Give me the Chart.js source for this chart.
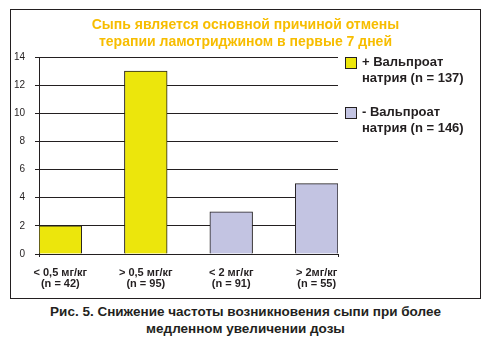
<!DOCTYPE html>
<html lang="ru">
  <head>
    <meta charset="UTF-8" />
    <title>Сыпь и отмена ламотриджина</title>
    <script src="https://cdn.jsdelivr.net/npm/chart.js"></script>
    <style>
      body {
        margin: 0;
        width: 491px;
        height: 342px;
        background: #fff;
        position: relative;
        font-family: "Liberation Sans", Arial, Helvetica, sans-serif;
      }
      .frame {
        position: absolute;
        left: 10px;
        top: 9px;
        width: 471px;
        height: 290px;
        box-sizing: border-box;
        border: 1px solid #231f20;
      }
      .frame canvas {
        display: block;
      }
      .title {
        position: absolute;
        left: 0;
        top: 16px;
        width: 491px;
        text-align: center;
        font-weight: bold;
        font-size: 14px;
        line-height: 16.7px;
        color: #f7bd00;
      }
      .caption {
        position: absolute;
        left: 0;
        top: 303px;
        width: 491px;
        text-align: center;
        font-weight: bold;
        font-size: 13.5px;
        line-height: 17px;
        color: #231f20;
      }
    </style>
  </head>

  <body>
    <div class="frame">
      <canvas id="rashChart" width="469" height="288"></canvas>
    </div>
    <div class="title">
      Сыпь является основной причиной отмены<br />
      терапии ламотриджином в первые 7 дней
    </div>
    <div class="caption">
      Рис. 5. Снижение частоты возникновения сыпи при более<br />
      медленном увеличении дозы
    </div>

    <script>
      // dose groups, number of patients who stopped because of rash
      const categories = [
        ["< 0,5 мг/кг", "(n = 42)"],
        ["> 0,5 мг/кг", "(n = 95)"],
        ["< 2 мг/кг", "(n = 91)"],
        ["> 2мг/кг", "(n = 55)"],
      ];
      const rashCounts = [2, 13, 3, 5];
      const seriesOfCategory = [0, 0, 1, 1];
      const seriesLabels = [
        ["+ Вальпроат", "натрия (n = 137)"],
        ["- Вальпроат", "натрия (n = 146)"],
      ];
      const seriesColors = ["#ece60c", "#c3c4e2"];
      const yTicks = [0, 2, 4, 6, 8, 10, 12, 14];

      const ink = "#231f20";
      const fontFamily = '"Liberation Sans", Arial, Helvetica, sans-serif';

      // each bar sits in its own slot with an empty slot between bars
      const slotLabels = [];
      categories.forEach((c, i) => {
        if (i > 0) slotLabels.push("");
        slotLabels.push(c);
      });

      const datasets = seriesLabels.map((label, s) => {
        const data = [];
        categories.forEach((c, i) => {
          if (i > 0) data.push(null);
          data.push(seriesOfCategory[i] === s ? rashCounts[i] : null);
        });
        return {
          label: label,
          data: data,
          backgroundColor: seriesColors[s],
          borderColor: ink,
          borderWidth: 1,
          borderSkipped: "bottom",
          grouped: false,
          barPercentage: 1,
          categoryPercentage: 1,
        };
      });

      // two-line legend boxes to the right of the plot
      const sideLegend = {
        id: "sideLegend",
        afterDraw(chart) {
          const ctx = chart.ctx;
          const area = chart.chartArea;
          ctx.save();
          ctx.font = "bold 13px " + fontFamily;
          ctx.textBaseline = "middle";
          ctx.textAlign = "left";
          chart.data.datasets.forEach((ds, i) => {
            const top = area.top + i * 50;
            const x = area.right + 7;
            ctx.fillStyle = ds.backgroundColor;
            ctx.fillRect(x + 0.5, top + 0.5, 11, 11);
            ctx.strokeStyle = ink;
            ctx.lineWidth = 1;
            ctx.strokeRect(x + 0.5, top + 0.5, 11, 11);
            ctx.fillStyle = ink;
            ds.label.forEach((line, j) => {
              ctx.fillText(line, x + 17, top + 5 + j * 16);
            });
          });
          ctx.restore();
        },
      };

      new Chart(document.getElementById("rashChart"), {
        type: "bar",
        data: { labels: slotLabels, datasets: datasets },
        plugins: [sideLegend],
        options: {
          responsive: false,
          animation: false,
          devicePixelRatio: 1,
          layout: { padding: { left: 1, right: 142, top: 47, bottom: 8 } },
          plugins: {
            legend: { display: false },
            tooltip: { enabled: false },
            title: { display: false },
          },
          scales: {
            x: {
              offset: true,
              afterFit: (axis) => {
                // let the end labels hang past the plot edges, keep the band tight
                axis.paddingLeft = 0;
                axis.paddingRight = 0;
                axis.height = 36;
              },
              grid: {
                drawOnChartArea: false,
                tickLength: 3,
                color: (c) =>
                  c.index === 0 || c.index === undefined ? ink : "rgba(0,0,0,0)",
              },
              border: { color: ink, width: 1 },
              ticks: {
                autoSkip: false,
                maxRotation: 0,
                padding: 10,
                color: ink,
                font: { family: fontFamily, size: 11, weight: "bold", lineHeight: 1.05 },
              },
            },
            y: {
              min: yTicks[0],
              max: yTicks[yTicks.length - 1],
              afterBuildTicks: (axis) => {
                axis.ticks = yTicks.map((v) => ({ value: v }));
              },
              afterFit: (axis) => {
                axis.width = 27;
              },
              grid: { color: ink, lineWidth: 1, tickLength: 4 },
              border: { color: ink, width: 1 },
              ticks: {
                padding: 10,
                color: ink,
                font: { family: fontFamily, size: 10 },
              },
            },
          },
        },
      });
    </script>
  </body>
</html>
